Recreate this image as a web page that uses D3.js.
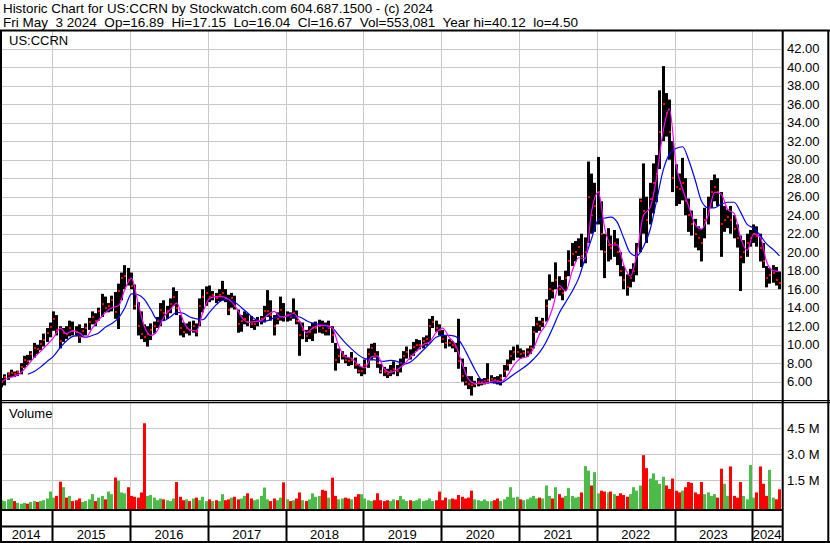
<!DOCTYPE html>
<html>
<meta charset="utf-8" />
<script src="https://d3js.org/d3.v7.min.js"></script>
<style>
  body { margin: 0; background: #fff; }
  text { font-family: "Liberation Sans", Arial, sans-serif; }
</style>
<body>
<div id="chart"></div>
<script>
// half-monthly bars, first bar 1 May 2014 (1st and 16th of each month)
var hi = [6.4,6.8,7.0,7.3,7.1,7.2,8.0,8.8,8.9,9.3,
  10.2,10.0,10.5,11.2,11.8,12.4,13.6,13.2,12.0,11.8,
  12.0,12.6,12.5,12.0,12.2,11.8,12.3,12.9,13.6,13.4,
  14.0,15.5,15.2,14.5,15.3,15.7,16.6,17.8,18.6,18.3,
  17.8,16.5,14.6,13.6,12.2,12.0,12.3,12.5,13.0,14.5,
  14.8,14.2,15.0,16.2,15.8,13.2,12.4,12.3,12.5,12.6,
  12.3,15.0,16.0,16.3,16.4,15.8,15.6,16.0,16.9,16.0,
  15.4,15.6,15.3,13.8,13.2,13.6,13.4,13.1,12.7,13.0,
  13.1,14.2,15.9,14.8,13.2,13.5,15.2,14.5,13.6,13.5,
  15.0,13.7,12.5,12.4,11.6,12.0,12.4,12.5,12.7,12.6,
  12.4,12.6,12.0,10.2,9.6,9.3,8.9,8.6,9.2,8.6,
  7.9,7.6,8.4,9.6,10.1,10.2,9.3,7.9,7.6,7.4,
  7.8,8.2,7.8,8.5,9.3,9.8,9.5,10.3,10.6,10.5,
  10.8,11.0,12.8,13.1,12.6,12.2,11.6,11.0,10.6,10.4,
  10.2,12.8,8.5,7.6,6.6,6.6,6.1,6.4,6.3,6.4,
  8.0,6.7,6.5,6.6,6.8,7.8,8.4,9.4,9.8,10.0,
  9.6,9.4,9.6,9.9,12.0,13.0,12.6,12.9,14.9,17.6,
  16.8,18.9,17.4,17.0,18.0,20.2,21.0,21.2,21.5,22.0,
  21.6,29.8,28.5,27.5,30.3,25.5,22.0,22.6,21.8,22.4,
  21.5,20.0,18.5,17.6,18.2,18.8,21.0,25.8,29.6,26.0,
  27.5,29.6,30.5,37.5,40.12,37.2,36.5,32.0,29.5,28.5,
  30.2,28.0,25.8,24.5,23.6,22.8,22.5,24.8,26.0,27.8,
  28.4,28.0,26.5,25.0,24.6,25.0,24.0,23.0,21.8,21.3,
  22.0,22.4,23.0,22.8,22.0,21.0,18.5,18.3,18.6,18.4,17.9];

var lo = [5.4,5.6,6.2,6.5,6.5,6.6,6.8,7.5,7.8,8.3,
  8.6,9.0,9.4,9.8,10.3,10.8,11.5,11.0,9.6,10.3,
  10.6,10.9,11.0,10.9,10.2,10.8,11.0,11.6,12.2,12.0,
  12.6,13.0,13.5,13.5,13.6,12.8,11.7,14.8,16.0,16.4,
  16.0,13.8,11.0,10.6,10.3,9.8,10.5,11.2,11.8,12.0,
  12.6,12.8,13.4,14.2,13.2,11.0,10.8,11.2,11.0,11.3,
  10.9,12.0,13.5,14.2,14.6,14.8,14.5,14.7,14.8,14.6,
  13.2,14.0,13.8,11.3,11.4,12.2,12.0,11.8,11.6,12.0,
  12.2,12.4,13.0,12.6,11.0,12.2,12.6,12.5,12.5,12.6,
  12.8,12.2,8.8,10.6,10.3,10.6,10.4,11.2,11.3,11.2,
  11.0,11.0,10.2,7.2,8.0,8.4,8.0,7.7,7.8,7.4,
  6.9,6.6,6.8,7.5,8.3,8.6,7.5,6.9,6.6,6.4,
  6.6,6.8,6.6,7.0,7.8,8.5,8.4,8.8,9.3,9.5,
  9.6,9.9,10.2,11.8,11.4,11.0,10.2,9.6,9.8,9.6,
  9.2,7.4,6.0,5.6,5.2,4.5,5.4,5.5,5.6,5.7,
  5.8,5.9,5.8,5.7,5.6,6.5,7.2,7.9,8.3,8.6,
  8.5,8.6,8.7,9.0,9.6,11.3,11.5,11.9,12.5,14.8,
  15.0,16.0,15.3,14.8,15.8,17.4,18.5,19.0,19.6,18.4,
  18.8,21.0,22.0,22.2,23.0,20.2,17.2,19.0,19.2,19.5,
  18.6,17.4,16.0,15.3,16.2,16.8,17.5,20.0,22.0,21.0,
  23.0,24.2,25.4,29.0,32.0,32.5,30.0,26.5,25.0,25.2,
  25.6,24.0,22.2,21.8,20.5,20.2,19.0,21.5,23.0,24.8,
  25.5,25.0,19.5,22.2,22.6,22.0,21.5,20.5,15.8,18.8,
  19.5,20.6,21.0,20.6,19.0,18.3,16.2,16.6,16.7,16.4,16.0];

var cl = [6.0,6.5,6.8,6.9,6.8,7.0,7.6,8.4,8.2,9.0,
  9.6,9.5,10.1,10.5,11.3,11.9,12.8,11.6,10.4,11.3,
  11.2,11.8,11.5,11.4,10.8,11.5,11.8,12.4,13.0,12.6,
  13.6,14.4,14.0,14.2,14.8,13.5,15.8,17.2,17.4,17.0,
  16.4,14.2,12.0,11.2,10.8,11.2,11.6,12.0,12.6,13.8,
  13.4,13.6,14.4,15.2,14.0,11.8,11.4,11.8,11.6,12.0,
  11.4,14.2,15.2,15.6,15.2,15.4,15.0,15.4,15.6,15.0,
  13.8,15.0,14.2,12.2,12.6,12.8,12.4,12.2,12.2,12.6,
  12.8,13.6,13.6,13.2,12.0,12.8,13.8,13.0,13.2,13.0,
  13.4,12.6,11.0,11.6,10.9,11.4,11.8,11.8,12.0,11.8,
  11.5,11.8,11.0,8.4,8.8,8.8,8.4,8.2,8.4,7.8,
  7.2,7.2,7.8,9.0,9.6,9.0,8.0,7.2,7.0,6.8,
  7.2,7.4,7.2,8.0,8.8,9.2,8.8,9.8,10.0,10.0,
  10.4,10.6,12.0,12.4,11.8,11.6,10.6,10.2,10.2,10.0,
  9.8,8.2,6.6,6.0,5.8,5.6,5.8,6.0,6.0,6.1,
  6.2,6.3,6.2,6.1,6.4,7.2,7.8,8.8,9.2,9.2,
  9.0,9.1,9.2,9.6,11.4,12.2,12.0,12.5,14.2,16.0,
  15.8,17.0,16.0,15.6,17.2,19.0,19.8,20.0,20.6,19.6,
  20.0,26.0,24.0,25.0,26.5,22.0,20.0,20.8,20.5,21.0,
  20.0,18.0,17.0,16.2,17.2,18.0,19.6,25.5,24.5,23.5,
  25.8,27.5,28.5,33.0,36.0,35.0,33.0,28.0,27.0,26.8,
  27.5,25.5,24.0,23.0,22.0,21.5,21.0,23.5,24.5,26.5,
  27.0,26.5,23.0,23.5,23.8,23.5,22.5,21.5,19.5,20.0,
  21.0,21.5,22.0,21.8,20.5,19.0,17.2,17.5,17.8,17.0,16.67];

// volume in millions of shares, per half month
var vol = [0.35,0.3,0.4,0.45,0.3,0.2,0.15,0.2,0.15,0.25,
  0.3,0.25,0.3,0.35,0.45,0.85,0.5,0.6,1.42,1.1,
  0.5,0.6,0.3,0.35,0.45,0.25,0.3,0.4,0.7,0.3,
  0.5,0.6,0.4,0.85,0.7,1.66,1.47,0.8,0.75,1.1,
  0.6,0.55,0.5,0.8,4.79,0.6,0.65,0.5,0.35,0.45,
  0.4,0.35,0.3,0.45,1.4,0.55,0.35,0.4,0.3,0.45,
  0.5,0.35,0.55,0.3,0.4,0.3,0.35,0.3,0.7,0.35,
  0.4,0.5,0.55,0.4,0.45,0.6,0.75,0.45,0.35,0.4,
  0.6,1.08,0.4,0.3,0.45,0.35,0.5,1.38,0.4,0.3,
  0.35,0.45,0.8,0.35,0.3,0.4,0.75,0.55,0.6,0.95,
  0.9,0.5,1.65,0.6,0.4,0.45,0.5,0.45,0.4,0.55,
  0.7,0.7,0.45,0.35,0.3,0.35,0.75,0.35,0.3,0.35,
  0.3,0.4,0.35,0.6,0.4,0.3,0.35,0.3,0.35,0.45,
  0.3,0.35,0.45,0.3,0.35,0.85,0.35,0.5,0.4,0.45,
  0.4,0.65,0.55,0.45,0.5,0.9,0.4,0.35,0.3,0.4,
  0.3,0.3,0.35,0.45,0.3,0.4,0.55,1.1,0.5,0.55,
  0.4,0.35,0.4,0.5,0.6,0.45,0.5,0.45,1.2,0.6,
  0.45,1.1,0.7,0.5,0.6,1.05,0.6,0.5,0.55,0.8,
  2.32,2.06,1.2,1.97,0.75,0.9,0.85,0.8,0.85,0.7,
  0.6,0.75,0.65,0.55,0.7,1.1,0.9,1.2,2.95,2.2,
  1.6,1.9,1.5,1.3,1.7,1.2,1.0,1.6,0.9,0.8,
  0.9,1.1,1.4,1.35,0.8,0.7,1.4,0.7,0.8,0.6,
  0.7,0.5,2.17,1.3,0.6,2.3,0.6,0.5,1.4,0.6,
  0.4,2.38,0.5,0.8,2.3,1.3,0.6,2.1,0.5,0.4,0.98];

// moving averages read monthly (1st of month)
var maFast = [6.0,6.4,6.6,7.0,7.8,8.6,9.3,10.0,10.8,11.8,11.2,11.5,11.3,10.8,11.8,12.7,13.5,14.0,14.2,16.0,17.2,14.5,12.0,11.0,11.5,13.0,13.8,14.5,12.5,11.6,
  11.5,13.5,15.0,15.2,15.2,14.9,14.2,13.0,12.4,12.5,12.6,13.2,13.6,13.0,13.1,13.4,12.5,11.3,11.8,12.1,12.1,11.8,9.8,8.7,8.5,7.8,7.5,8.7,8.8,7.4,
  7.0,7.3,7.8,8.6,9.3,10.0,10.3,11.3,11.8,10.8,10.0,8.0,6.3,5.8,5.8,5.9,6.1,6.0,6.7,7.8,8.5,8.7,9.5,11.2,12.2,14.0,16.4,15.8,18.0,19.4,
  19.3,24.5,26.5,22.5,20.8,20.8,18.6,17.4,19.8,24.0,24.8,28.0,33.0,35.5,29.5,26.8,25.0,23.0,22.5,24.0,26.5,26.3,24.6,24.2,21.5,20.2,22.0,21.6,19.0,18.0,17.9];
var maFastStart = 0;

var maSlow = [6.8,7.1,7.6,8.2,8.8,9.7,10.4,10.9,11.0,10.8,11.0,11.3,11.9,12.3,12.9,14.0,15.5,15.4,14.9,13.8,12.7,12.6,13.0,13.5,13.4,13.0,
  12.8,12.7,13.5,14.3,14.8,14.9,14.6,14.0,13.4,12.8,12.5,12.6,12.9,13.0,13.1,13.1,13.0,12.6,12.3,12.2,12.0,11.8,11.0,10.2,9.5,8.9,8.5,8.4,8.3,8.2,
  8.3,8.2,7.9,8.1,8.7,9.4,10.1,10.8,11.0,11.0,10.9,10.0,8.7,7.3,6.2,5.9,5.9,5.9,6.3,6.8,7.3,7.8,8.4,9.2,10.3,11.8,13.4,14.6,15.8,17.2,
  19.4,21.5,23.5,23.7,23.8,23.2,21.5,19.9,19.6,20.6,22.4,25.5,28.8,30.6,31.2,31.4,30.0,27.8,25.5,24.8,24.8,25.2,25.4,25.4,24.3,23.0,22.6,21.8,20.9,20.3,19.6];
var maSlowStart = 8;   // Sept 2014

var priceTicks = [6,8,10,12,14,16,18,20,22,24,26,28,30,32,34,36,38,40,42];
var volTicks = [1.5, 3.0, 4.5];
var years = ["2014","2015","2016","2017","2018","2019","2020","2021","2022","2023","2024"];

var title1 = "Historic Chart for US:CCRN by Stockwatch.com 604.687.1500 - (c) 2024";
var title2 = "Fri May  3 2024  Op=16.89  Hi=17.15  Lo=16.04  Cl=16.67  Vol=553,081  Year hi=40.12  lo=4.50";

var W = 830, H = 543;
var plotL = 2, plotR = 781, priceTop = 31, priceBot = 400, volTop = 403, volBot = 509.5;

function barDate(i) { return new Date(2014, 4 + Math.floor(i / 2), i % 2 ? 16 : 1); }

var x = d3.scaleTime()
  .domain([new Date(2014, 4, 1), new Date(2024, 4, 15)])
  .range([0.1, 781]);
var y = d3.scaleLinear().domain([6, 42]).range([381.7, 48.7]);
var yv = d3.scaleLinear().domain([0, 4.5]).range([506.3, 428.3]);

var svg = d3.select("#chart").append("svg")
  .attr("width", W).attr("height", H);

svg.append("rect").attr("width", W).attr("height", H).attr("fill", "#fff");

// header
svg.append("text").attr("x", 3).attr("y", 12.5).attr("font-size", 13.5)
  .attr("textLength", 430).attr("lengthAdjust", "spacingAndGlyphs")
  .style("white-space", "pre").text(title1);
svg.append("text").attr("x", 3).attr("y", 27).attr("font-size", 13.5)
  .attr("textLength", 575).attr("lengthAdjust", "spacingAndGlyphs")
  .style("white-space", "pre").text(title2);

var yearStarts = years.slice(1).map(function(d) { return new Date(+d, 0, 1); });

// grid
var grid = svg.append("g").attr("stroke", "#c8c8c8").attr("stroke-width", 1);
grid.selectAll(".hp").data(priceTicks).enter().append("line")
  .attr("x1", plotL).attr("x2", plotR)
  .attr("y1", function(d) { return Math.round(y(d)) + 0.5; })
  .attr("y2", function(d) { return Math.round(y(d)) + 0.5; });
grid.selectAll(".hv").data(volTicks).enter().append("line")
  .attr("x1", plotL).attr("x2", plotR)
  .attr("y1", function(d) { return Math.round(yv(d)) + 0.5; })
  .attr("y2", function(d) { return Math.round(yv(d)) + 0.5; });
grid.selectAll(".vp").data(yearStarts).enter().append("line")
  .attr("x1", function(d) { return Math.round(x(d)) + 0.5; })
  .attr("x2", function(d) { return Math.round(x(d)) + 0.5; })
  .attr("y1", priceTop).attr("y2", priceBot);
grid.selectAll(".vv").data(yearStarts).enter().append("line")
  .attr("x1", function(d) { return Math.round(x(d)) + 0.5; })
  .attr("x2", function(d) { return Math.round(x(d)) + 0.5; })
  .attr("y1", volTop).attr("y2", volBot);

svg.append("text").attr("x", 9).attr("y", 45).attr("font-size", 13).text("US:CCRN");
svg.append("text").attr("x", 9).attr("y", 417.5).attr("font-size", 13).text("Volume");

var bars = hi.map(function(h, i) {
  return { date: barDate(i), hi: h, lo: lo[i], cl: cl[i], vol: vol[i], prev: i > 0 ? cl[i - 1] : cl[i] };
});

// price bars
svg.append("g").selectAll("rect").data(bars).enter().append("rect")
  .attr("x", function(d) { return Math.round(x(d.date)); })
  .attr("width", 3)
  .attr("y", function(d) { return y(d.hi); })
  .attr("height", function(d) { return y(d.lo) - y(d.hi); })
  .attr("fill", "#000");
svg.append("g").selectAll("rect").data(bars).enter().append("rect")
  .attr("x", function(d) { return Math.round(x(d.date)) + 1; })
  .attr("width", 2)
  .attr("y", function(d) { return Math.round(y(d.cl)) - 1; })
  .attr("height", 2)
  .attr("fill", "#ff0000");

// moving averages
function maLine(arr, start) {
  return arr.map(function(v, k) { return { date: barDate(start + 2 * k), v: v }; });
}
var line = d3.line()
  .x(function(d) { return x(d.date) + 1.5; })
  .y(function(d) { return y(d.v); })
  .curve(d3.curveMonotoneX);
svg.append("path").datum(maLine(maSlow, maSlowStart))
  .attr("fill", "none").attr("stroke", "#0000ff").attr("stroke-width", 1.2).attr("d", line);
svg.append("path").datum(maLine(maFast, maFastStart))
  .attr("fill", "none").attr("stroke", "#ff00ff").attr("stroke-width", 1.2).attr("d", line);

// volume bars
svg.append("g").selectAll("rect").data(bars).enter().append("rect")
  .attr("x", function(d) { return Math.round(x(d.date)); })
  .attr("width", 3)
  .attr("y", function(d) { return yv(d.vol); })
  .attr("height", function(d) { return volBot - yv(d.vol); })
  .attr("fill", function(d) { return d.cl < d.prev ? "#ff0000" : "#4cbb47"; });

// right axes
var pAxis = svg.append("g").attr("transform", "translate(785,0)")
  .call(d3.axisRight(y).tickValues(priceTicks).tickFormat(d3.format(".2f")).tickSize(0).tickPadding(2));
var vAxis = svg.append("g").attr("transform", "translate(785,0)")
  .call(d3.axisRight(yv).tickValues(volTicks).tickFormat(function(d) { return d.toFixed(1) + " M"; }).tickSize(0).tickPadding(2));
[pAxis, vAxis].forEach(function(a) {
  a.select(".domain").remove();
  a.selectAll("text").attr("font-size", 13).attr("fill", "#000")
    .attr("font-family", "Liberation Sans, Arial, sans-serif");
});

// frame
var frame = svg.append("g").attr("stroke", "#000");
frame.append("line").attr("x1", 0).attr("x2", W).attr("y1", 30.5).attr("y2", 30.5).attr("stroke-width", 2);
frame.append("line").attr("x1", 1).attr("x2", 1).attr("y1", 30).attr("y2", H).attr("stroke-width", 2);
frame.append("line").attr("x1", 782.7).attr("x2", 782.7).attr("y1", 30).attr("y2", H).attr("stroke-width", 2);
frame.append("line").attr("x1", 828.3).attr("x2", 828.3).attr("y1", 30).attr("y2", H).attr("stroke-width", 2);
frame.append("line").attr("x1", 0).attr("x2", W).attr("y1", 400.5).attr("y2", 400.5).attr("stroke-width", 1.2);
frame.append("line").attr("x1", 0).attr("x2", W).attr("y1", 402.5).attr("y2", 402.5).attr("stroke-width", 1.5);
frame.append("line").attr("x1", 0).attr("x2", 782).attr("y1", 510).attr("y2", 510).attr("stroke-width", 2);
frame.append("line").attr("x1", 0).attr("x2", 782).attr("y1", 526.5).attr("y2", 526.5).attr("stroke-width", 2);
frame.append("line").attr("x1", 0).attr("x2", W).attr("y1", 542).attr("y2", 542).attr("stroke-width", 2);
frame.selectAll(".ys").data(yearStarts).enter().append("line")
  .attr("x1", function(d) { return Math.round(x(d)) + 0.5; })
  .attr("x2", function(d) { return Math.round(x(d)) + 0.5; })
  .attr("y1", 510).attr("y2", 542).attr("stroke-width", 2);

// year labels
var bounds = [0].concat(yearStarts.map(function(d) { return x(d); })).concat([782]);
svg.append("g").selectAll("text").data(years).enter().append("text")
  .attr("x", function(d, i) { return (bounds[i] + bounds[i + 1]) / 2; })
  .attr("y", 539)
  .attr("text-anchor", "middle")
  .attr("font-size", 13)
  .text(function(d) { return d; });
</script>
</body>
</html>
